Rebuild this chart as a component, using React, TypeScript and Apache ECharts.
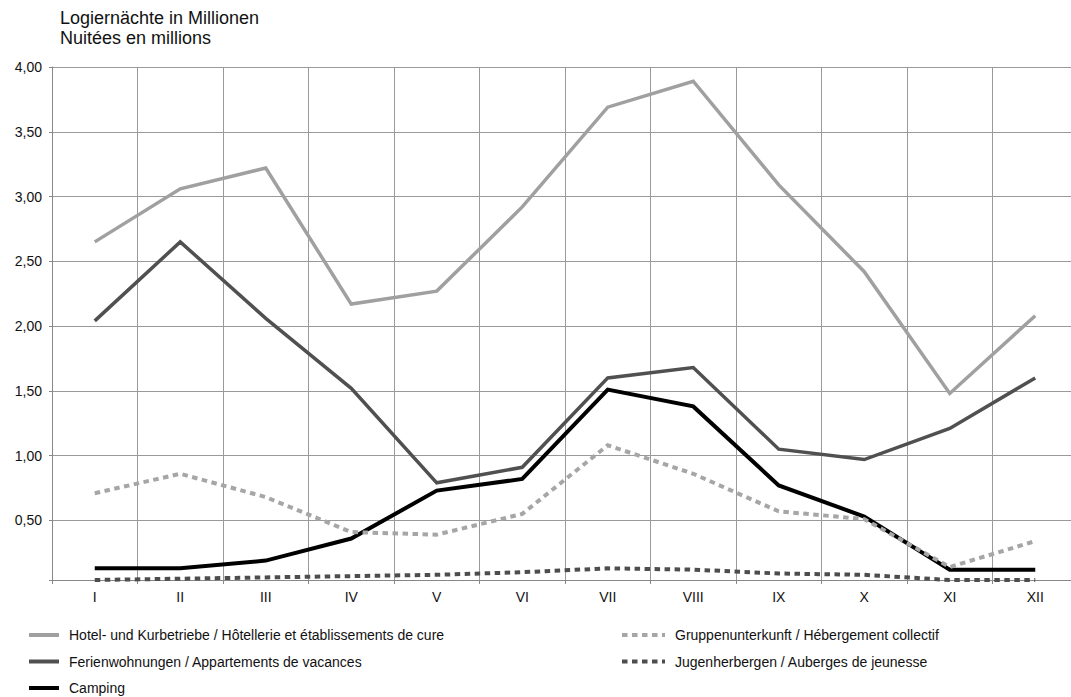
import React, { useEffect, useRef } from "react";
import * as echarts from "echarts";

const months = ["I", "II", "III", "IV", "V", "VI", "VII", "VIII", "IX", "X", "XI", "XII"];

const hotel = [2.65, 3.06, 3.22, 2.17, 2.27, 2.92, 3.69, 3.89, 3.09, 2.42, 1.48, 2.08];
const ferien = [2.04, 2.65, 2.06, 1.52, 0.79, 0.91, 1.6, 1.68, 1.05, 0.97, 1.21, 1.6];
const camping = [0.13, 0.13, 0.19, 0.36, 0.73, 0.82, 1.51, 1.38, 0.77, 0.53, 0.12, 0.12];
const gruppen = [0.71, 0.86, 0.68, 0.41, 0.39, 0.55, 1.08, 0.86, 0.57, 0.51, 0.14, 0.34];
const jugend = [0.04, 0.05, 0.06, 0.07, 0.08, 0.1, 0.13, 0.12, 0.09, 0.08, 0.04, 0.04];

const names = {
  hotel: "Hotel- und Kurbetriebe / Hôtellerie et établissements de cure",
  ferien: "Ferienwohnungen / Appartements de vacances",
  camping: "Camping",
  gruppen: "Gruppenunterkunft / Hébergement collectif",
  jugend: "Jugenherbergen / Auberges de jeunesse",
};

const titleLines = ["Logiernächte in Millionen", "Nuitées en millions"];

const FONT = "'Liberation Sans', Arial, Helvetica, sans-serif";

export default function App() {
  const ref = useRef<HTMLDivElement>(null);

  useEffect(() => {
    if (!ref.current) return;
    const chart = echarts.init(ref.current, null, { renderer: "svg" });

    const mkLine = (name: string, data: number[], color: string, width: number, dash?: number[]) => ({
      name,
      type: "line",
      data,
      symbol: "none",
      showSymbol: false,
      clip: false,
      lineStyle: { color, width, type: dash ? dash : "solid", cap: "butt", join: "miter" },
      itemStyle: { color },
      emphasis: { disabled: true },
    });

    const legendBase = {
      orient: "vertical",
      top: 628,
      padding: 0,
      itemHeight: 14,
      itemGap: 12.5,
      selectedMode: false,
      itemStyle: { opacity: 0 },
      lineStyle: { width: 4 },
      textStyle: { fontFamily: FONT, fontSize: 14, color: "#111", padding: [0, 0, 0, 5] },
    };

    const option: any = {
      animation: false,
      backgroundColor: "#ffffff",
      textStyle: { fontFamily: FONT },
      title: {
        text: titleLines.join("\n"),
        left: 60,
        top: 8,
        padding: 0,
        textStyle: { fontFamily: FONT, fontSize: 18, fontWeight: "normal", color: "#111", lineHeight: 20 },
      },
      grid: {
        left: 52,
        top: 67,
        width: 1026,
        height: 513,
        containLabel: false,
        outerBoundsMode: "none",
      },
      legend: [
        {
          ...legendBase,
          data: [names.hotel, names.ferien, names.camping],
          left: 27,
          itemWidth: 30,
        },
        {
          ...legendBase,
          data: [names.gruppen, names.jugend],
          left: 620,
          itemWidth: 43,
        },
      ],
      xAxis: {
        type: "category",
        data: months,
        boundaryGap: true,
        axisLine: { show: true, lineStyle: { color: "#888", width: 1 } },
        axisTick: { show: true, length: 4, interval: 0, lineStyle: { color: "#888" } },
        axisLabel: { interval: 0, fontSize: 14, color: "#111", margin: 10, fontFamily: FONT },
        splitLine: { show: true, interval: 0, lineStyle: { color: "#9a9a9a", width: 1 } },
      },
      yAxis: {
        type: "value",
        min: 0.04,
        max: 4,
        splitNumber: 8,
        minInterval: 0.5,
        maxInterval: 0.5,
        axisLine: { show: true, lineStyle: { color: "#888", width: 1 } },
        axisTick: { show: true, length: 3, lineStyle: { color: "#888" } },
        axisLabel: {
          fontSize: 14,
          color: "#111",
          margin: 10,
          fontFamily: FONT,
          formatter: (v: number) => (v < 0.2 ? "" : v.toFixed(2).replace(".", ",")),
        },
        splitLine: { show: true, lineStyle: { color: "#9a9a9a", width: 1 } },
      },
      series: [
        mkLine(names.hotel, hotel, "#a0a0a0", 3.5),
        mkLine(names.ferien, ferien, "#505050", 3.5),
        mkLine(names.camping, camping, "#000000", 4),
        mkLine(names.gruppen, gruppen, "#a6a6a6", 4, [5.5, 4.5]),
        mkLine(names.jugend, jugend, "#4d4d4d", 4, [5.5, 4.5]),
      ],
    };

    chart.setOption(option);
    return () => chart.dispose();
  }, []);

  return (
    <div
      ref={ref}
      style={{ position: "absolute", left: 0, top: 0, width: 1071, height: 697, overflow: "hidden", background: "#fff" }}
    />
  );
}
